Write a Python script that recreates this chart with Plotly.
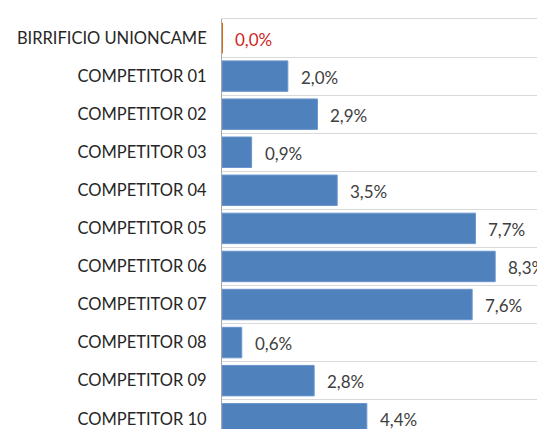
import plotly.graph_objects as go

categories = ["BIRRIFICIO UNIONCAME", "COMPETITOR 01", "COMPETITOR 02", "COMPETITOR 03",
              "COMPETITOR 04", "COMPETITOR 05", "COMPETITOR 06", "COMPETITOR 07",
              "COMPETITOR 08", "COMPETITOR 09", "COMPETITOR 10"]
values = [0.0, 2.0, 2.9, 0.9, 3.5, 7.7, 8.3, 7.6, 0.6, 2.8, 4.4]
labels = [f"{v:.1f}%".replace(".", ",") for v in values]

bar_colors = ["#E46C0A"] + ["#4F81BD"] * (len(values) - 1)
line_colors = ["#E46C0A"] + ["#6A95CC"] * (len(values) - 1)
line_widths = [2] + [1] * (len(values) - 1)
label_colors = ["#D01F1F"] + ["#404040"] * (len(values) - 1)

FONT = "Lato, Calibri, Carlito, sans-serif"

fig = go.Figure()
fig.add_trace(go.Bar(
    x=values, y=categories, orientation="h",
    marker=dict(color=bar_colors, line=dict(color=line_colors, width=line_widths)),
    width=0.8,
    hoverinfo="skip",
))

for c, v, t, col in zip(categories, values, labels, label_colors):
    fig.add_annotation(x=v, y=c, text=t, showarrow=False, xanchor="left",
                       xshift=11, yshift=-1,
                       font=dict(family=FONT, size=17, color=col))

fig.update_layout(
    width=537, height=429,
    margin=dict(l=222, r=0, t=19, b=0),
    paper_bgcolor="white", plot_bgcolor="white",
    showlegend=False,
    font=dict(family=FONT, size=16, color="#262626"),
)
fig.update_xaxes(range=[0, 9.57], showgrid=False, showticklabels=False,
                 zeroline=False, showline=True, side="top", linecolor="#D9D9D9",
                 linewidth=1, ticks="", automargin=False)
fig.update_yaxes(type="category", range=[10.27, -0.5], automargin=False,
                 tickson="boundaries", showgrid=True, gridcolor="#D9D9D9", gridwidth=1,
                 showline=True, linecolor="#A6A6A6", linewidth=1,
                 ticks="", ticklabelstandoff=11,
                 tickfont=dict(family=FONT, size=16.5, color="#262626"))

fig.write_html("out.html",
               config={"displayModeBar": False},
               post_script="document.body.style.margin='0';document.body.style.overflow='hidden';")
